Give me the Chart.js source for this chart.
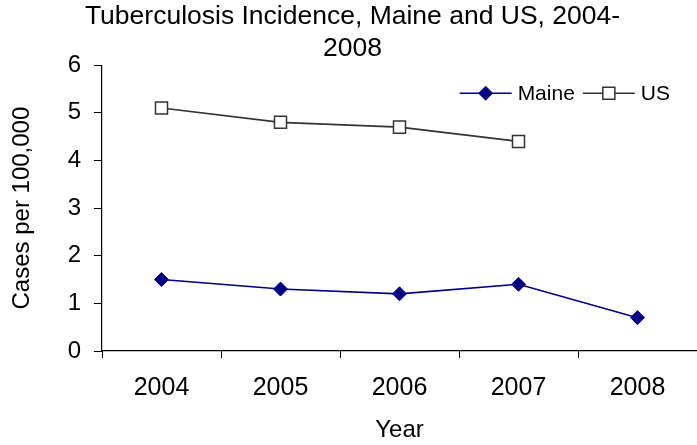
<!DOCTYPE html>
<html>
<head>
<meta charset="utf-8">
<script src="https://cdn.jsdelivr.net/npm/chart.js@4.4.1/dist/chart.umd.min.js"></script>
<style>
  body { margin: 0; background: #ffffff; }
  #wrap { width: 697px; height: 445px; }
</style>
</head>
<body>
<div id="wrap"><canvas id="tbChart" width="697" height="445"></canvas></div>
<script>
var years = ["2004", "2005", "2006", "2007", "2008"];
var maine = [1.5, 1.3, 1.2, 1.4, 0.7];
var us = [5.1, 4.8, 4.7, 4.4, null];
var yTicks = [0, 1, 2, 3, 4, 5, 6];

var FONT = "'Liberation Sans', Arial, sans-serif";

// legend drawn inside the plot, top right (line + marker, like the original)
var insideLegend = {
  id: "insideLegend",
  afterDraw: function(chart) {
    var ctx = chart.ctx;
    var area = chart.chartArea;
    var sets = chart.data.datasets;
    ctx.save();
    ctx.font = "21px " + FONT;
    ctx.textBaseline = "middle";
    var lineLen = 52, gap = 6, itemGap = 8;
    var total = 0;
    for (var i = 0; i < sets.length; i++) {
      total += lineLen + gap + ctx.measureText(sets[i].label).width;
      if (i > 0) total += itemGap;
    }
    var x = area.right - 27 - total;
    var y = area.top + 28;
    for (var i = 0; i < sets.length; i++) {
      var ds = sets[i];
      ctx.strokeStyle = ds.borderColor;
      ctx.lineWidth = ds.borderWidth;
      ctx.beginPath();
      ctx.moveTo(x, y);
      ctx.lineTo(x + lineLen, y);
      ctx.stroke();
      var cx = x + lineLen / 2;
      ctx.fillStyle = ds.pointBackgroundColor;
      ctx.strokeStyle = ds.pointBorderColor;
      ctx.lineWidth = ds.pointBorderWidth || 1;
      ctx.beginPath();
      if (ds.pointStyle === "rectRot") {
        var r = ds.pointRadius;
        ctx.moveTo(cx, y - r);
        ctx.lineTo(cx + r, y);
        ctx.lineTo(cx, y + r);
        ctx.lineTo(cx - r, y);
        ctx.closePath();
      } else {
        var h = ds.pointRadius * Math.SQRT1_2;
        ctx.rect(cx - h, y - h, 2 * h, 2 * h);
      }
      ctx.fill();
      ctx.stroke();
      ctx.fillStyle = "#000000";
      ctx.fillText(ds.label, x + lineLen + gap, y + 1);
      x += lineLen + gap + ctx.measureText(ds.label).width + itemGap;
    }
    ctx.restore();
  }
};

var ctx = document.getElementById("tbChart");
var graph = new Chart(ctx, {
  type: "line",
  data: {
    labels: years,
    datasets: [{
      label: "Maine",
      data: maine,
      borderColor: "#000080",
      borderWidth: 1.6,
      pointStyle: "rectRot",
      pointRadius: 7,
      pointBackgroundColor: "#000080",
      pointBorderColor: "#000080",
      pointBorderWidth: 1,
      tension: 0
    }, {
      label: "US",
      data: us,
      borderColor: "#333333",
      borderWidth: 1.6,
      pointStyle: "rect",
      pointRadius: 8.5,
      pointBackgroundColor: "#ffffff",
      pointBorderColor: "#333333",
      pointBorderWidth: 1.5,
      tension: 0
    }]
  },
  options: {
    responsive: false,
    animation: false,
    layout: { autoPadding: false, padding: { top: 0, left: 8, right: 0, bottom: 0 } },
    plugins: {
      legend: { display: false },
      tooltip: { enabled: false },
      title: {
        display: true,
        text: ["Tuberculosis Incidence, Maine and US, 2004-", "2008"],
        color: "#000000",
        font: { family: FONT, size: 26.5, weight: "normal", lineHeight: 1.23 },
        padding: { top: 0, bottom: 0 }
      }
    },
    scales: {
      x: {
        offset: true,
        border: { color: "#000000", width: 1.2 },
        grid: { offset: true, drawOnChartArea: false, drawTicks: true, tickLength: 7, color: "#000000" },
        ticks: { color: "#000000", font: { family: FONT, size: 25 }, padding: 15, maxRotation: 0 },
        title: { display: true, text: "Year", color: "#000000", font: { family: FONT, size: 24 }, padding: { top: 11, bottom: 0 } },
        afterFit: function(axis) { axis.height = 94; }
      },
      y: {
        min: 0,
        max: 6,
        border: { color: "#000000", width: 1.2 },
        grid: { drawOnChartArea: false, drawTicks: true, tickLength: 8, color: "#000000" },
        afterBuildTicks: function(axis) {
          axis.ticks = yTicks.map(function(v) { return { value: v }; });
        },
        ticks: { color: "#000000", font: { family: FONT, size: 24 }, padding: 13 },
        title: { display: true, text: "Cases per 100,000", color: "#000000", font: { family: FONT, size: 24 }, padding: { top: 0, bottom: 17 } },
        afterFit: function(axis) { axis.width = 94; }
      }
    }
  },
  plugins: [insideLegend]
});
</script>
</body>
</html>
